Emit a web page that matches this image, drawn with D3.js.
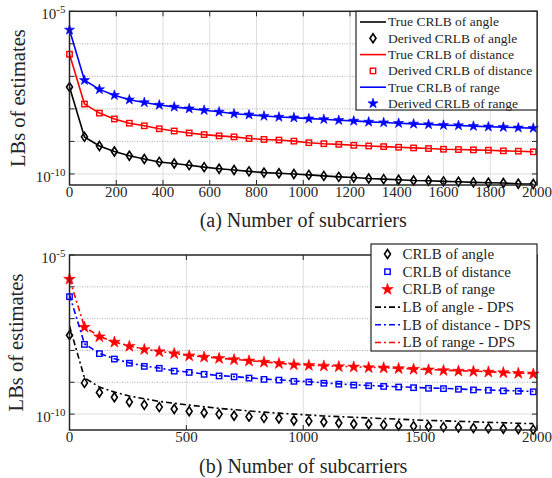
<!DOCTYPE html>
<html lang="en">
<head>
    <meta charset="UTF-8">
    <title>LBs of estimates</title>
    <script src="https://d3js.org/d3.v7.min.js"></script>
    <style>
        body { margin: 0; background: #fff; }
        svg { display: block; font-family: "Liberation Serif", "Times New Roman", serif; }
        .box { fill: none; stroke: #262626; stroke-width: 1.5px; }
        .vgrid { stroke: #dedede; stroke-width: 1px; }
        .hgrid { stroke: #9a9a9a; stroke-width: 0.8px; stroke-dasharray: 1,1.5; }
        .tick { stroke: #262626; stroke-width: 1px; }
        .ticklabel { fill: #262626; }
    </style>
</head>
<body>
    <div id="chart"></div>
    <script>
        // number of subcarriers (x positions of the samples)
        const subcarriers = [0, 64, 128, 192, 256, 320, 384, 448, 512, 576, 640, 704, 768, 832, 896, 960,
            1024, 1088, 1152, 1216, 1280, 1344, 1408, 1472, 1536, 1600, 1664, 1728, 1792, 1856, 1920, 1984];

        // panel (a)
        const rangeA = [2.69e-6, 7.59e-8, 3.98e-8, 2.63e-8, 1.91e-8, 1.58e-8, 1.32e-8, 1.15e-8, 1.02e-8, 9.12e-9,
            8.13e-9, 7.08e-9, 6.61e-9, 6.03e-9, 5.62e-9, 5.37e-9, 5.01e-9, 4.79e-9, 4.47e-9, 4.27e-9, 3.98e-9,
            3.80e-9, 3.63e-9, 3.47e-9, 3.31e-9, 3.16e-9, 3.09e-9, 2.95e-9, 2.82e-9, 2.75e-9, 2.63e-9, 2.57e-9];
        const distA = [4.79e-7, 1.41e-8, 7.41e-9, 4.90e-9, 3.63e-9, 3.02e-9, 2.45e-9, 2.09e-9, 1.82e-9, 1.62e-9,
            1.48e-9, 1.38e-9, 1.23e-9, 1.15e-9, 1.10e-9, 1.02e-9, 9.12e-10, 8.51e-10, 8.13e-10, 7.59e-10, 7.24e-10,
            6.92e-10, 6.61e-10, 6.31e-10, 6.03e-10, 5.75e-10, 5.62e-10, 5.50e-10, 5.37e-10, 5.13e-10, 5.01e-10, 4.79e-10];
        const angleA = [4.68e-8, 1.38e-9, 7.24e-10, 4.90e-10, 3.63e-10, 2.88e-10, 2.34e-10, 2.09e-10, 1.86e-10, 1.62e-10,
            1.45e-10, 1.32e-10, 1.20e-10, 1.10e-10, 1.05e-10, 1.00e-10, 9.33e-11, 8.71e-11, 8.13e-11, 7.76e-11, 7.24e-11,
            6.92e-11, 6.61e-11, 6.31e-11, 6.17e-11, 5.89e-11, 5.75e-11, 5.50e-11, 5.37e-11, 5.25e-11, 5.01e-11, 4.90e-11];

        // panel (b): CRLB markers
        const rangeB = [1.74e-6, 5.37e-8, 2.69e-8, 1.82e-8, 1.35e-8, 1.07e-8, 9.12e-9, 7.94e-9, 6.76e-9, 6.17e-9,
            5.62e-9, 5.13e-9, 4.68e-9, 4.27e-9, 3.89e-9, 3.55e-9, 3.39e-9, 3.24e-9, 3.09e-9, 3.02e-9, 2.88e-9,
            2.82e-9, 2.69e-9, 2.57e-9, 2.45e-9, 2.34e-9, 2.24e-9, 2.19e-9, 2.09e-9, 2.00e-9, 1.91e-9, 1.82e-9];
        const distB = [4.90e-7, 1.55e-8, 7.94e-9, 5.37e-9, 3.98e-9, 3.16e-9, 2.75e-9, 2.24e-9, 2.04e-9, 1.78e-9,
            1.58e-9, 1.48e-9, 1.35e-9, 1.23e-9, 1.17e-9, 1.07e-9, 1.02e-9, 9.33e-10, 8.71e-10, 8.13e-10, 7.76e-10,
            7.41e-10, 7.08e-10, 6.76e-10, 6.46e-10, 6.31e-10, 6.03e-10, 5.75e-10, 5.62e-10, 5.37e-10, 5.25e-10, 5.01e-10];
        const angleB = [3.02e-8, 9.55e-10, 4.79e-10, 3.39e-10, 2.40e-10, 1.95e-10, 1.66e-10, 1.45e-10, 1.23e-10, 1.10e-10,
            1.00e-10, 8.91e-11, 8.32e-11, 7.59e-11, 7.24e-11, 6.31e-11, 6.03e-11, 5.62e-11, 5.25e-11, 4.90e-11, 4.79e-11,
            4.57e-11, 4.37e-11, 4.17e-11, 4.07e-11, 3.89e-11, 3.80e-11, 3.63e-11, 3.55e-11, 3.47e-11, 3.39e-11, 3.24e-11];

        // panel (b): DPS lower bounds
        const rangeDps = [1.78e-6, 5.50e-8, 2.75e-8, 1.86e-8, 1.38e-8, 1.10e-8, 9.33e-9, 8.13e-9, 6.92e-9, 6.31e-9,
            5.75e-9, 5.25e-9, 4.79e-9, 4.37e-9, 3.98e-9, 3.63e-9, 3.47e-9, 3.31e-9, 3.16e-9, 3.09e-9, 2.95e-9,
            2.88e-9, 2.75e-9, 2.63e-9, 2.51e-9, 2.40e-9, 2.29e-9, 2.24e-9, 2.14e-9, 2.04e-9, 1.95e-9, 1.86e-9];
        const distDps = [5.62e-7, 1.62e-8, 8.13e-9, 5.50e-9, 4.07e-9, 3.24e-9, 2.82e-9, 2.29e-9, 2.09e-9, 1.82e-9,
            1.62e-9, 1.51e-9, 1.38e-9, 1.26e-9, 1.20e-9, 1.10e-9, 1.05e-9, 9.55e-10, 8.91e-10, 8.32e-10, 7.94e-10,
            7.59e-10, 7.24e-10, 6.92e-10, 6.61e-10, 6.46e-10, 6.17e-10, 5.89e-10, 5.75e-10, 5.50e-10, 5.37e-10, 5.13e-10];
        const angleDps = [5.89e-8, 1.38e-9, 7.08e-10, 4.90e-10, 3.72e-10, 3.02e-10, 2.51e-10, 2.19e-10, 1.91e-10, 1.70e-10,
            1.51e-10, 1.38e-10, 1.26e-10, 1.15e-10, 1.07e-10, 1.00e-10, 9.33e-11, 8.71e-11, 8.32e-11, 7.94e-11, 7.59e-11,
            7.24e-11, 6.92e-11, 6.61e-11, 6.31e-11, 6.17e-11, 5.89e-11, 5.75e-11, 5.50e-11, 5.37e-11, 5.13e-11, 5.01e-11];

        const xTicksA = [0, 200, 400, 600, 800, 1000, 1200, 1400, 1600, 1800, 2000];
        const xTicksB = [0, 500, 1000, 1500, 2000];
        const decades = [1e-5, 1e-6, 1e-7, 1e-8, 1e-9, 1e-10];
        const legendA = ["True CRLB of angle", "Derived CRLB of angle", "True CRLB of distance",
            "Derived CRLB of distance", "True CRLB of range", "Derived CRLB of range"];
        const legendB = ["CRLB of angle", "CRLB of distance", "CRLB of range",
            "LB of angle - DPS", "LB of distance - DPS", "LB of range - DPS"];

        const W = 552, H = 478;
        const svg = d3.select("#chart").append("svg").attr("width", W).attr("height", H);

        const diamond = "M0,-4.5L3,0L0,4.5L-3,0Z";

        function drawMarker(g, kind, color, x, y, big) {
            if (kind === "diamond") {
                g.append("path").attr("d", diamond).attr("transform", `translate(${x},${y})`)
                    .attr("fill", "none").attr("stroke", color).attr("stroke-width", 1.6);
            } else if (kind === "square") {
                g.append("rect").attr("x", x - 2.7).attr("y", y - 2.7).attr("width", 5.4).attr("height", 5.4)
                    .attr("fill", "none").attr("stroke", color).attr("stroke-width", 1.4);
            } else {
                g.append("path").attr("d", d3.symbol(d3.symbolStar, big ? 42 : 32)())
                    .attr("transform", `translate(${x},${y})`).attr("fill", color).attr("stroke", color)
                    .attr("stroke-width", 0.6);
            }
        }

        function panel(opt) {
            const x = d3.scaleLinear().domain([0, 2000]).range([opt.left, opt.right]);
            const y = d3.scaleLog().domain([opt.yMin, 1e-5]).range([opt.bottom, opt.top]);
            const g = svg.append("g");

            // grid
            g.selectAll(".vgrid").data(opt.xTicks.slice(1, -1)).join("line").attr("class", "vgrid")
                .attr("x1", d => x(d)).attr("x2", d => x(d)).attr("y1", opt.top).attr("y2", opt.bottom);
            g.selectAll(".hgrid").data(decades.slice(1, -1)).join("line").attr("class", "hgrid")
                .attr("x1", opt.left).attr("x2", opt.right).attr("y1", d => y(d)).attr("y2", d => y(d));
            g.append("line").attr("class", "vgrid")
                .attr("x1", opt.left).attr("x2", opt.right).attr("y1", y(1e-10)).attr("y2", y(1e-10));

            const plot = g.append("g");
            const line = d3.line().x((d, i) => x(subcarriers[i])).y(d => y(d));

            opt.series.forEach(s => {
                if (s.line) {
                    plot.append("path").datum(s.values).attr("d", line).attr("fill", "none")
                        .attr("stroke", s.color).attr("stroke-width", 1.6)
                        .attr("stroke-dasharray", s.dash || null);
                }
                if (s.marker) {
                    s.values.forEach((v, i) => drawMarker(plot, s.marker, s.color, x(subcarriers[i]), y(v), opt.big));
                }
            });

            // ticks
            opt.xTicks.forEach(t => {
                g.append("line").attr("class", "tick").attr("x1", x(t)).attr("x2", x(t))
                    .attr("y1", opt.bottom).attr("y2", opt.bottom - 5);
                g.append("line").attr("class", "tick").attr("x1", x(t)).attr("x2", x(t))
                    .attr("y1", opt.top).attr("y2", opt.top + 5);
                g.append("text").attr("class", "ticklabel").attr("x", x(t)).attr("y", opt.bottom + 12)
                    .attr("text-anchor", "middle").attr("font-size", 15).text(t);
            });
            decades.forEach(d => {
                g.append("line").attr("class", "tick").attr("x1", opt.left).attr("x2", opt.left + 5)
                    .attr("y1", y(d)).attr("y2", y(d));
                g.append("line").attr("class", "tick").attr("x1", opt.right).attr("x2", opt.right - 5)
                    .attr("y1", y(d)).attr("y2", y(d));
            });
            [1e-5, 1e-10].forEach(d => {
                const t = g.append("text").attr("class", "ticklabel").attr("x", opt.left - 4)
                    .attr("y", y(d) + 8).attr("text-anchor", "end").attr("font-size", 15);
                t.append("tspan").text("10");
                t.append("tspan").attr("dy", -6).attr("font-size", 11).text(d === 1e-5 ? "-5" : "-10");
            });

            g.append("rect").attr("class", "box").attr("x", opt.left).attr("y", opt.top)
                .attr("width", opt.right - opt.left).attr("height", opt.bottom - opt.top);

            // labels
            g.append("text").attr("transform", `translate(${opt.yLabelX},${(opt.top + opt.bottom) / 2}) rotate(-90)`)
                .attr("text-anchor", "middle").attr("font-size", 20.5).attr("fill", "#262626").text("LBs of estimates");
            g.append("text").attr("x", (opt.left + opt.right) / 2).attr("y", opt.titleY)
                .attr("text-anchor", "middle").attr("font-size", 20).attr("fill", "#262626").text(opt.title);

            // legend
            const lg = opt.legend;
            g.append("rect").attr("x", lg.x0).attr("y", lg.y0).attr("width", lg.x1 - lg.x0).attr("height", lg.y1 - lg.y0)
                .attr("fill", "#fff").attr("stroke", "#262626").attr("stroke-width", 1.2);
            lg.items.forEach((it, i) => {
                const cy = lg.firstY + i * lg.step;
                if (it.line) {
                    g.append("line").attr("x1", lg.sx0).attr("x2", lg.sx1).attr("y1", cy).attr("y2", cy)
                        .attr("stroke", it.color).attr("stroke-width", 1.6).attr("stroke-dasharray", it.dash || null);
                }
                if (it.marker) drawMarker(g, it.marker, it.color, (lg.sx0 + lg.sx1) / 2, cy, opt.big);
                g.append("text").attr("x", lg.tx).attr("y", cy + lg.fs * 0.33).attr("font-size", lg.fs)
                    .attr("fill", "#262626").text(lg.labels[i]);
            });
        }

        const dashDot = "6,3,2,3";

        panel({
            left: 69.5, right: 537, top: 11.3, bottom: 185, yMin: Math.pow(10, -10.34),
            xTicks: xTicksA, title: "(a) Number of subcarriers", titleY: 227, yLabelX: 25, big: false,
            series: [
                { values: angleA, color: "#000", line: true, marker: "diamond" },
                { values: distA, color: "#f00", line: true, marker: "square" },
                { values: rangeA, color: "#00f", line: true, marker: "star" }
            ],
            legend: {
                x0: 356, x1: 537, y0: 11.3, y1: 110, firstY: 22, step: 16.3, sx0: 360, sx1: 386, tx: 388, fs: 13.5,
                labels: legendA,
                items: [
                    { line: true, color: "#000" }, { marker: "diamond", color: "#000" },
                    { line: true, color: "#f00" }, { marker: "square", color: "#f00" },
                    { line: true, color: "#00f" }, { marker: "star", color: "#00f" }
                ]
            }
        });

        panel({
            left: 69.5, right: 537, top: 255, bottom: 430, yMin: Math.pow(10, -10.5),
            xTicks: xTicksB, title: "(b) Number of subcarriers", titleY: 473, yLabelX: 23, big: true,
            series: [
                { values: angleB, color: "#000", marker: "diamond" },
                { values: distB, color: "#00f", marker: "square" },
                { values: rangeB, color: "#f00", marker: "star" },
                { values: angleDps, color: "#000", line: true, dash: dashDot },
                { values: distDps, color: "#00f", line: true, dash: dashDot },
                { values: rangeDps, color: "#f00", line: true, dash: dashDot }
            ],
            legend: {
                x0: 371, x1: 537, y0: 244, y1: 351, firstY: 254, step: 17.7, sx0: 375, sx1: 400, tx: 402.5, fs: 15,
                labels: legendB,
                items: [
                    { marker: "diamond", color: "#000" }, { marker: "square", color: "#00f" },
                    { marker: "star", color: "#f00" },
                    { line: true, color: "#000", dash: dashDot }, { line: true, color: "#00f", dash: dashDot },
                    { line: true, color: "#f00", dash: dashDot }
                ]
            }
        });
    </script>
</body>
</html>
